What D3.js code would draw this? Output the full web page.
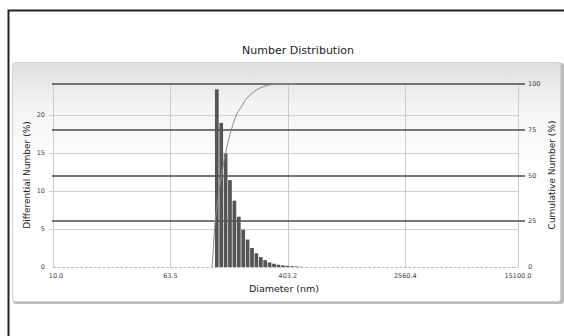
<!DOCTYPE html>
<html>
<head>
<meta charset="utf-8">
<script src="https://cdn.jsdelivr.net/npm/d3@7"></script>
<style>
  body { margin: 0; background: #fff; }
  svg { display: block; font-family: "DejaVu Sans", Verdana, sans-serif; }
</style>
</head>
<body>
<script>
// bin lower edges (nm), one more than the bar count
const binEdges = [128.0, 137.2, 147.0, 157.5, 168.8, 180.9, 193.9, 207.8, 222.7, 238.7,
                  255.8, 274.1, 293.8, 314.8, 337.4, 361.6, 387.5, 415.3, 445.1, 477.0, 511.2];
// differential number (%) per bin
const diffNumber = [23.3, 18.9, 14.9, 11.4, 8.7, 6.6, 4.9, 3.6, 2.5, 1.8,
                    1.3, 0.9, 0.6, 0.43, 0.3, 0.22, 0.15, 0.1, 0.07, 0.04];
// cumulative number (%)
const cumDiam = [122.5, 128.0, 137.2, 147.0, 157.5, 168.8, 180.9, 193.9, 207.8, 222.7, 238.7,
                 255.8, 274.1, 293.8, 314.8, 337.4, 361.6, 400, 465];
const cumNumber = [0, 23.3, 42.2, 57.1, 68.5, 77.2, 83.8, 87.5, 91.5, 94.0, 96.0,
                   97.5, 98.6, 99.3, 99.7, 99.9, 100, 100, 100];

const xTicks = [10.0, 63.5, 403.2, 2560.4, 15100.0];
const leftTicks = [0, 5, 10, 15, 20];
const rightTicks = [0, 25, 50, 75, 100];

const W = 564, H = 336;
const plot = {left: 53, right: 518, top: 84, bottom: 267};

const svg = d3.select("body").append("svg")
    .attr("width", W)
    .attr("height", H);

const defs = svg.append("defs");
const grad = defs.append("linearGradient")
    .attr("id", "panelGrad")
    .attr("x1", 0).attr("y1", 0).attr("x2", 0).attr("y2", 1);
grad.append("stop").attr("offset", "0%").attr("stop-color", "#dedede");
grad.append("stop").attr("offset", "18%").attr("stop-color", "#f4f4f4");
grad.append("stop").attr("offset", "45%").attr("stop-color", "#ffffff");
grad.append("stop").attr("offset", "100%").attr("stop-color", "#ffffff");

// outer frame (top + left)
svg.append("path")
    .attr("d", "M8.5,336 V10.5 H564")
    .attr("fill", "none")
    .attr("stroke", "#222")
    .attr("stroke-width", 2);

// title
svg.append("text")
    .attr("x", 298).attr("y", 54)
    .attr("text-anchor", "middle")
    .attr("font-size", 11)
    .attr("fill", "#222")
    .text("Number Distribution");

// panel with shadow
svg.append("rect")
    .attr("x", 13).attr("y", 63)
    .attr("width", 551).attr("height", 241)
    .attr("rx", 3)
    .attr("fill", "#bdbdbd");
svg.append("rect")
    .attr("x", 12.5).attr("y", 62.5)
    .attr("width", 548).attr("height", 239)
    .attr("rx", 3)
    .attr("fill", "url(#panelGrad)")
    .attr("stroke", "#cfcfcf");

const x = d3.scaleLog().domain([10, 15100]).range([plot.left, plot.right]);
const yL = d3.scaleLinear().domain([0, 24]).range([plot.bottom, plot.top]);
const yR = d3.scaleLinear().domain([0, 100]).range([plot.bottom, plot.top]);

const g = svg.append("g");

// light grid for left axis
g.selectAll(".hgrid")
    .data(leftTicks.filter(d => d > 0))
    .enter().append("line")
    .attr("x1", plot.left - 4).attr("x2", plot.right)
    .attr("y1", d => Math.round(yL(d)) + 0.5)
    .attr("y2", d => Math.round(yL(d)) + 0.5)
    .attr("stroke", "#d0d0d0");

// vertical grid
g.selectAll(".vgrid")
    .data(xTicks)
    .enter().append("line")
    .attr("x1", d => Math.round(x(d)) + 0.5)
    .attr("x2", d => Math.round(x(d)) + 0.5)
    .attr("y1", plot.top).attr("y2", plot.bottom)
    .attr("stroke", "#cccccc");

// dark grid for cumulative axis
g.selectAll(".rgrid")
    .data(rightTicks.filter(d => d > 0))
    .enter().append("line")
    .attr("x1", plot.left - 1).attr("x2", plot.right + 7)
    .attr("y1", d => Math.round(yR(d)))
    .attr("y2", d => Math.round(yR(d)))
    .attr("stroke", "#4a4a4a")
    .attr("stroke-width", 1.6);

// baseline
g.append("line")
    .attr("x1", plot.left).attr("x2", plot.right)
    .attr("y1", plot.bottom + 0.5).attr("y2", plot.bottom + 0.5)
    .attr("stroke", "#bbbbbb")
    .attr("stroke-dasharray", "3,1.5");

// bars
g.selectAll(".bar")
    .data(diffNumber)
    .enter().append("rect")
    .attr("x", (d, i) => x(binEdges[i]))
    .attr("width", (d, i) => Math.max(0.5, x(binEdges[i + 1]) - x(binEdges[i]) - 0.7))
    .attr("y", d => yL(d))
    .attr("height", d => plot.bottom - yL(d))
    .attr("fill", "#555555");

// cumulative curve
const line = d3.line()
    .x((d, i) => x(cumDiam[i]))
    .y(d => yR(d))
    .curve(d3.curveMonotoneX);
g.append("path")
    .datum(cumNumber)
    .attr("d", line)
    .attr("fill", "none")
    .attr("stroke", "#8a8a8a")
    .attr("stroke-width", 1);

// tick labels
g.selectAll(".lt")
    .data(leftTicks)
    .enter().append("text")
    .attr("x", 45).attr("y", d => yL(d) + 2)
    .attr("text-anchor", "end")
    .attr("font-size", 6.5)
    .attr("fill", "#444")
    .text(d => d);

g.selectAll(".rt")
    .data(rightTicks)
    .enter().append("text")
    .attr("x", 528).attr("y", d => yR(d) + 2)
    .attr("font-size", 6.5)
    .attr("fill", "#444")
    .text(d => d);

g.selectAll(".xt")
    .data(xTicks)
    .enter().append("text")
    .attr("x", (d, i) => x(d) + (i === 0 ? 3 : 0))
    .attr("y", 278)
    .attr("text-anchor", "middle")
    .attr("font-size", 6.5)
    .attr("fill", "#444")
    .text(d => d.toFixed(1));

// axis titles
svg.append("text")
    .attr("x", 284).attr("y", 292)
    .attr("text-anchor", "middle")
    .attr("font-size", 9.5)
    .attr("fill", "#222")
    .text("Diameter (nm)");

svg.append("text")
    .attr("transform", "translate(30,175) rotate(-90)")
    .attr("text-anchor", "middle")
    .attr("font-size", 9)
    .attr("fill", "#222")
    .text("Differential Number (%)");

svg.append("text")
    .attr("transform", "translate(555,175) rotate(-90)")
    .attr("text-anchor", "middle")
    .attr("font-size", 9)
    .attr("fill", "#222")
    .text("Cumulative Number (%)");
</script>
</body>
</html>
